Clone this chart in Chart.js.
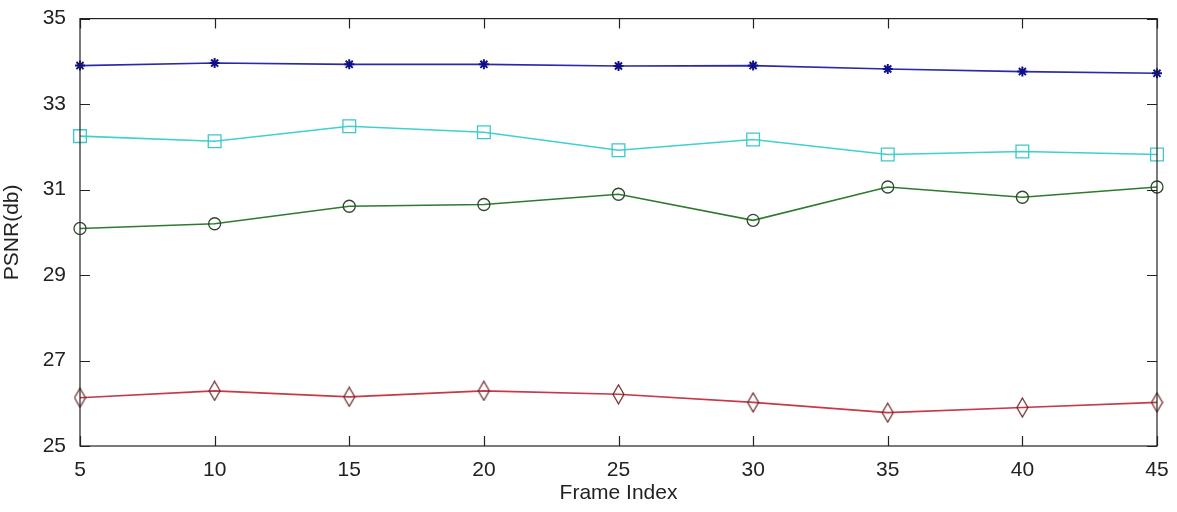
<!DOCTYPE html>
<html>
<head>
<meta charset="utf-8">
<script src="https://cdn.jsdelivr.net/npm/chart.js@4.4.1/dist/chart.umd.min.js"></script>
<style>
  html, body { margin: 0; padding: 0; background: #fff; }
  #wrap { width: 1177px; height: 512px; }
</style>
</head>
<body>
<div id="wrap"><canvas id="myChart" width="1177" height="512"></canvas></div>
<script>
'use strict';
const frameIndex = [5, 10, 15, 20, 25, 30, 35, 40, 45];
const blueStar = [33.90, 33.96, 33.93, 33.93, 33.89, 33.90, 33.82, 33.76, 33.72];
const cyanSquare = [32.25, 32.13, 32.48, 32.34, 31.92, 32.17, 31.82, 31.89, 31.82];
const greenCircle = [30.09, 30.20, 30.61, 30.65, 30.89, 30.28, 31.06, 30.82, 31.06];
const redDiamond = [26.13, 26.29, 26.15, 26.29, 26.21, 26.02, 25.78, 25.90, 26.02];
const yTicks = [25, 27, 29, 31, 33, 35];

function toPoints(values) {
  return frameIndex.map((x, i) => ({ x: x, y: values[i] }));
}

// tall narrow diamond like the matlab marker
function makeDiamond() {
  let c = document.createElement('canvas');
  c.width = 13;
  c.height = 21;
  let ctx = c.getContext('2d');
  ctx.strokeStyle = '#6a2424';
  ctx.lineWidth = 1.2;
  ctx.beginPath();
  ctx.moveTo(6.5, 1);
  ctx.lineTo(12, 10.5);
  ctx.lineTo(6.5, 20);
  ctx.lineTo(1, 10.5);
  ctx.closePath();
  ctx.stroke();
  return c;
}

// box around the axes with matlab style inward ticks
const framePlugin = {
  id: 'frame',
  afterDraw(chart) {
    const ctx = chart.ctx;
    const a = chart.chartArea;
    const xs = chart.scales.x;
    const ys = chart.scales.y;
    const len = 10;
    ctx.save();
    ctx.strokeStyle = '#222';
    ctx.lineWidth = 1.2;
    ctx.strokeRect(a.left, a.top, a.right - a.left, a.bottom - a.top);
    ctx.beginPath();
    xs.ticks.forEach(t => {
      let px = Math.round(xs.getPixelForValue(t.value)) + 0.5;
      ctx.moveTo(px, a.bottom);
      ctx.lineTo(px, a.bottom - len);
      ctx.moveTo(px, a.top);
      ctx.lineTo(px, a.top + len);
    });
    ys.ticks.forEach(t => {
      let py = Math.round(ys.getPixelForValue(t.value)) + 0.5;
      ctx.moveTo(a.left, py);
      ctx.lineTo(a.left + len, py);
      ctx.moveTo(a.right, py);
      ctx.lineTo(a.right - len, py);
    });
    ctx.stroke();
    ctx.restore();
  }
};

const data = {
  datasets: [
    {
      label: 'star',
      data: toPoints(blueStar),
      borderColor: '#2a2aa8',
      backgroundColor: '#10108a',
      pointBorderColor: '#10108a',
      pointStyle: 'star',
      pointRadius: 5,
      pointBorderWidth: 2,
      borderWidth: 1.6,
      clip: false,
    },
    {
      label: 'square',
      data: toPoints(cyanSquare),
      borderColor: '#3fd0d0',
      backgroundColor: 'rgba(0,0,0,0)',
      pointBorderColor: '#3fc8c8',
      pointStyle: 'rect',
      pointRadius: 9,
      pointBorderWidth: 1.3,
      borderWidth: 1.6,
      clip: false,
    },
    {
      label: 'circle',
      data: toPoints(greenCircle),
      borderColor: '#2f7a2f',
      backgroundColor: 'rgba(0,0,0,0)',
      pointBorderColor: '#2e4a2e',
      pointStyle: 'circle',
      pointRadius: 6,
      pointBorderWidth: 1.3,
      borderWidth: 1.6,
      clip: false,
    },
    {
      label: 'diamond',
      data: toPoints(redDiamond),
      borderColor: '#c83848',
      backgroundColor: 'rgba(0,0,0,0)',
      pointStyle: makeDiamond(),
      borderWidth: 1.6,
      clip: false,
    },
  ],
};

const font = { family: '"Liberation Sans", Arial, sans-serif', size: 21 };

const config = {
  type: 'line',
  data: data,
  plugins: [framePlugin],
  options: {
    responsive: false,
    animation: false,
    layout: { padding: { top: 18, right: 20, left: 0, bottom: 0 } },
    plugins: {
      legend: { display: false },
      tooltip: { enabled: false },
    },
    scales: {
      x: {
        type: 'linear',
        min: 5,
        max: 45,
        afterFit(scale) { scale.height = 66; },
        ticks: { stepSize: 5, color: '#222', font: font, padding: 4 },
        grid: { display: false },
        border: { display: false },
        title: {
          display: true,
          text: 'Frame Index',
          color: '#222',
          font: font,
          padding: { top: 0, bottom: 6 },
        },
      },
      y: {
        min: 25,
        max: 35,
        afterFit(scale) { scale.width = 80; },
        afterBuildTicks(scale) {
          scale.ticks = yTicks.map(v => ({ value: v }));
        },
        ticks: { color: '#222', font: font, padding: 6 },
        grid: { display: false },
        border: { display: false },
        title: {
          display: true,
          text: 'PSNR(db)',
          color: '#222',
          font: font,
          padding: { top: 0, bottom: 0 },
        },
      },
    },
  },
};

let canvasChart = document.getElementById('myChart');
const myChart = new Chart(canvasChart, config);
</script>
</body>
</html>
